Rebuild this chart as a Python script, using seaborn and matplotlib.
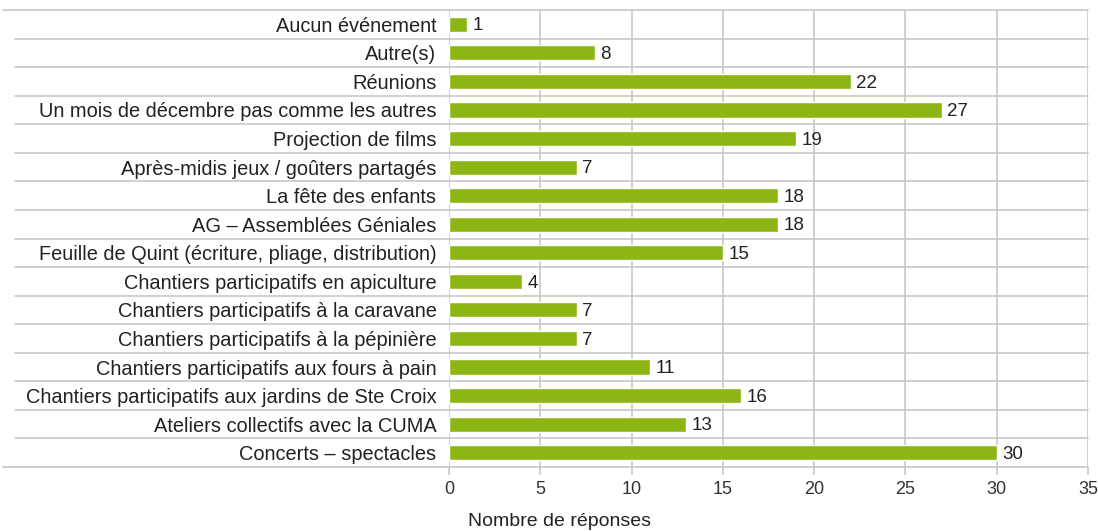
import matplotlib
matplotlib.use("Agg")
import matplotlib.pyplot as plt
import seaborn as sns
import pandas as pd
from matplotlib.lines import Line2D

categories = [
    "Aucun événement",
    "Autre(s)",
    "Réunions",
    "Un mois de décembre pas comme les autres",
    "Projection de films",
    "Après-midis jeux / goûters partagés",
    "La fête des enfants",
    "AG – Assemblées Géniales",
    "Feuille de Quint (écriture, pliage, distribution)",
    "Chantiers participatifs en apiculture",
    "Chantiers participatifs à la caravane",
    "Chantiers participatifs à la pépinière",
    "Chantiers participatifs aux fours à pain",
    "Chantiers participatifs aux jardins de Ste Croix",
    "Ateliers collectifs avec la CUMA",
    "Concerts – spectacles",
]
values = [1, 8, 22, 27, 19, 7, 18, 18, 15, 4, 7, 7, 11, 16, 13, 30]
x_ticks = [0, 5, 10, 15, 20, 25, 30, 35]
x_label = "Nombre de réponses"

sns.set_theme(style="white")
plt.rcParams["font.family"] = ["Liberation Sans", "DejaVu Sans"]

df = pd.DataFrame({"cat": categories, "val": values})

W, H = 1098, 532
fig = plt.figure(figsize=(W / 100, H / 100), dpi=100)
x0, x1, y0, y1 = 449, 1088, 10, 467
ax = fig.add_axes([x0 / W, 1 - y1 / H, (x1 - x0) / W, (y1 - y0) / H])

grid_c = "#c8c8c8"
sns.barplot(data=df, y="cat", x="val", orient="h", color="#8db614",
            saturation=1, width=0.53, ax=ax, zorder=3)

ax.set_xlim(0, 35)
ax.set_ylim(len(categories) - 0.5, -0.5)
ax.set_xticks(x_ticks)
ax.set_xticklabels([str(t) for t in x_ticks], fontsize=13, color="#333333")
ax.tick_params(axis="x", length=6, width=1.2, color=grid_c, pad=4, bottom=True)
ax.tick_params(axis="y", length=0, pad=9, labelsize=14.4, labelcolor="#222222")
ax.set_xlabel("")
ax.set_ylabel("")

for t in x_ticks:
    ax.axvline(t, color=grid_c, lw=1.2, zorder=1)

for s in ax.spines.values():
    s.set_visible(False)

# row separators extending into label area
n = len(categories)
for i in range(n + 1):
    yb = i - 0.5
    xstart = 3 if i in (0, n) else 15
    xs = (xstart - x0) / (x1 - x0)
    ax.add_line(Line2D([xs, 1], [yb, yb], transform=ax.get_yaxis_transform(),
                       color=grid_c, lw=1.2, clip_on=False, zorder=1))

for i, v in enumerate(values):
    ax.annotate(str(v), (v, i), xytext=(4, -1.2), textcoords="offset points",
                va="center", ha="left", fontsize=13.5, color="#222222")

fig.text(560 / W, 1 - 522 / H, x_label, ha="center", va="center",
         fontsize=14, color="#222222")

fig.savefig("out.png", dpi=100)
